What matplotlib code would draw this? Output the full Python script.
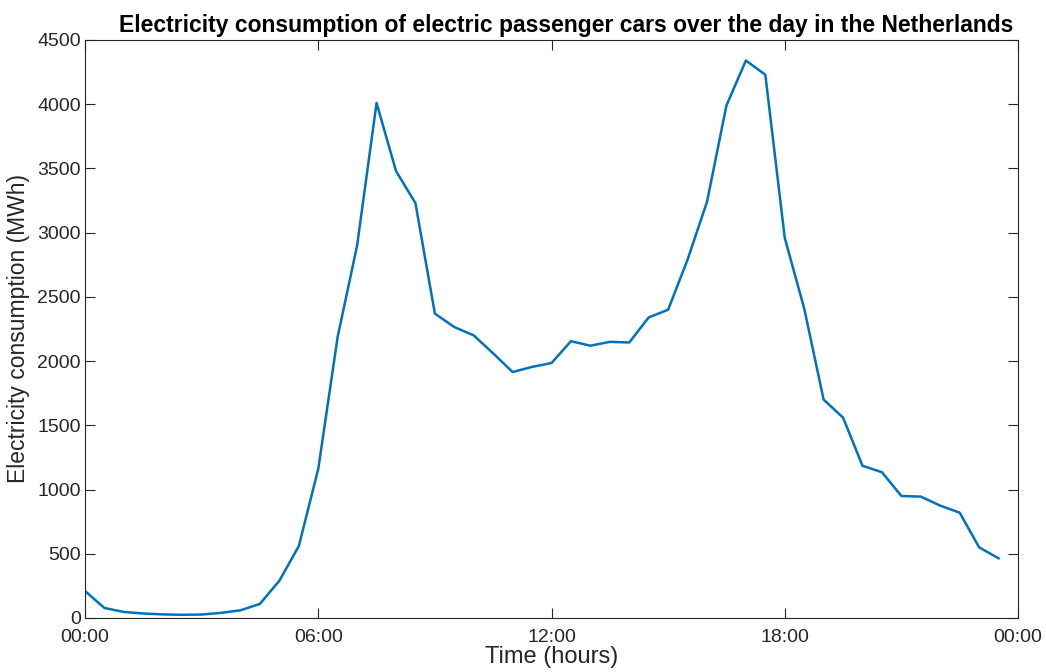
import matplotlib
matplotlib.use("Agg")
from matplotlib import pyplot as plt

# half-hourly electricity consumption (MWh), 00:00 .. 23:30
hours = [i * 0.5 for i in range(48)]
consumption = [
    210, 78, 47, 35, 28, 25, 27, 40, 60, 110,
    290, 560, 1160, 2190, 2900, 4010, 3480, 3230, 2370, 2265,
    2200, 2060, 1915, 1955, 1985, 2155, 2120, 2150, 2145, 2340,
    2400, 2790, 3240, 3990, 4340, 4230, 2960, 2410, 1700, 1560,
    1185, 1135, 950, 945, 875, 820, 550, 465,
]
xticks = [0, 6, 12, 18, 24]
xticklabels = ["00:00", "06:00", "12:00", "18:00", "00:00"]
yticks = list(range(0, 4501, 500))

plt.rcParams['font.family'] = ['Liberation Sans', 'DejaVu Sans']
axcol = (0.15, 0.15, 0.15)

fig = plt.figure(figsize=(10.46, 6.72), dpi=100)
ax = fig.add_axes([85 / 1046, 1 - 618 / 672, (1018 - 85) / 1046, (618 - 40) / 672])

ax.plot(hours, consumption, color="#0072BD", linewidth=1.8)

ax.set_xlim(0, 24)
ax.set_ylim(0, 4500)
ax.set_xticks(xticks)
ax.set_xticklabels(xticklabels)
ax.set_yticks(yticks)
ax.tick_params(direction='in', length=7, width=0.8, top=True, right=True,
               labelsize=14, colors=axcol, pad=3)
ax.tick_params(axis='x', pad=8)
for sp in ax.spines.values():
    sp.set_color(axcol)
    sp.set_linewidth(0.8)

ax.set_xlabel("Time (hours)", fontsize=17, color=axcol, labelpad=0)
ax.set_ylabel("Electricity consumption (MWh)", fontsize=16.5, color=axcol, labelpad=5)
ax.set_title("Electricity consumption of electric passenger cars over the day in the Netherlands",
             fontsize=16.5, fontweight='bold', pad=6, x=0.516)

fig.savefig("out.png", dpi=100)
